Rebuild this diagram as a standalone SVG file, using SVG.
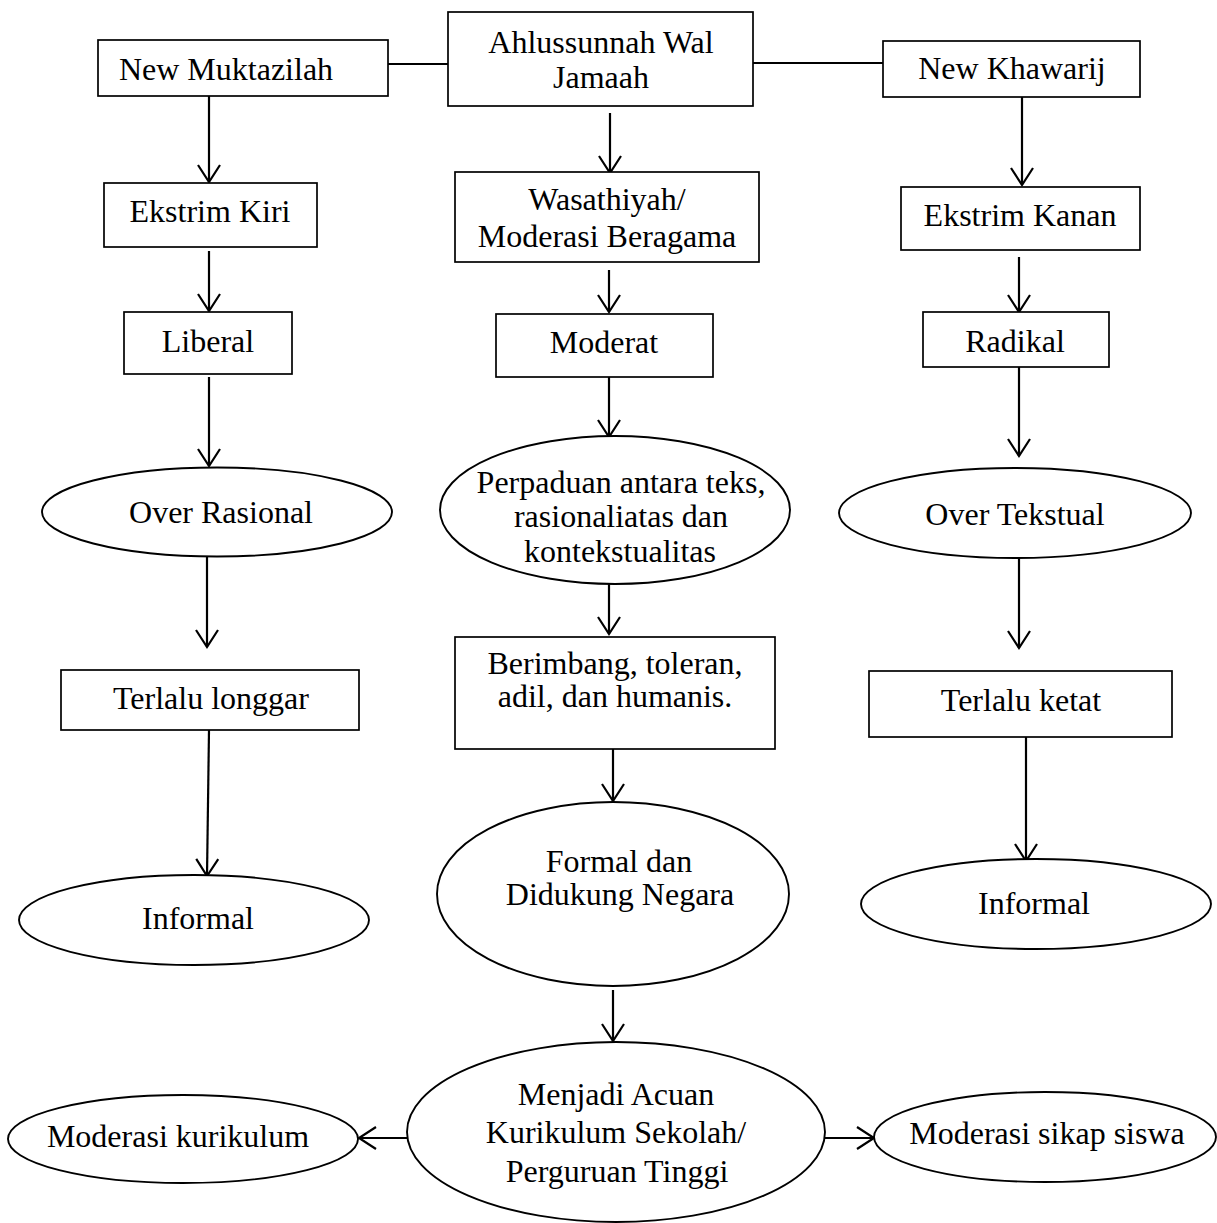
<svg xmlns="http://www.w3.org/2000/svg" width="1217" height="1223" viewBox="0 0 1217 1223">
<defs>
<style>
.box{fill:#fff;stroke:#000;stroke-width:1.7}
.ell{fill:#fff;stroke:#000;stroke-width:1.9}
.t{font-family:"Liberation Serif","Times New Roman",serif;font-size:32px;fill:#000;text-anchor:middle}
.ln{stroke:#000;stroke-width:2.2;fill:none}
</style>
<marker id="ah" markerUnits="userSpaceOnUse" markerWidth="22" markerHeight="26" viewBox="0 0 22 26" refX="19" refY="13" orient="auto">
<path d="M2,2 L19,13 L2,24" fill="none" stroke="#000" stroke-width="2.2"/>
</marker>
</defs>
<rect width="1217" height="1223" fill="#fff"/>

<g id="connectors">
<line class="ln" x1="388" y1="64" x2="449" y2="64"/>
<line class="ln" x1="753" y1="63" x2="883" y2="63"/>
<line class="ln" x1="209" y1="95" x2="209" y2="182" marker-end="url(#ah)"/>
<line class="ln" x1="209" y1="251" x2="209" y2="311" marker-end="url(#ah)"/>
<line class="ln" x1="209" y1="377" x2="209" y2="466" marker-end="url(#ah)"/>
<line class="ln" x1="207" y1="557" x2="207" y2="647" marker-end="url(#ah)"/>
<line class="ln" x1="209" y1="730" x2="207" y2="876" marker-end="url(#ah)"/>
<line class="ln" x1="610" y1="113" x2="610" y2="173" marker-end="url(#ah)"/>
<line class="ln" x1="609" y1="270" x2="609" y2="312" marker-end="url(#ah)"/>
<line class="ln" x1="609" y1="373" x2="609" y2="437" marker-end="url(#ah)"/>
<line class="ln" x1="609" y1="584" x2="609" y2="634" marker-end="url(#ah)"/>
<line class="ln" x1="613" y1="749" x2="613" y2="801" marker-end="url(#ah)"/>
<line class="ln" x1="613" y1="990" x2="613" y2="1041" marker-end="url(#ah)"/>
<line class="ln" x1="1022" y1="97" x2="1022" y2="185" marker-end="url(#ah)"/>
<line class="ln" x1="1019" y1="257" x2="1019" y2="312" marker-end="url(#ah)"/>
<line class="ln" x1="1019" y1="367" x2="1019" y2="456" marker-end="url(#ah)"/>
<line class="ln" x1="1019" y1="558" x2="1019" y2="648" marker-end="url(#ah)"/>
<line class="ln" x1="1026" y1="737" x2="1026" y2="861" marker-end="url(#ah)"/>
<line class="ln" x1="407" y1="1138" x2="359" y2="1138" marker-end="url(#ah)"/>
<line class="ln" x1="825" y1="1138" x2="874" y2="1138" marker-end="url(#ah)"/>
</g>

<g id="new-muktazilah">
<rect class="box" x="98" y="40" width="290" height="56"/>
<text class="t" x="226" y="80">New Muktazilah</text>
</g>
<g id="ahlussunnah">
<rect class="box" x="448" y="12" width="305" height="94"/>
<text class="t" x="601" y="53">Ahlussunnah Wal</text>
<text class="t" x="601" y="88">Jamaah</text>
</g>
<g id="new-khawarij">
<rect class="box" x="883" y="41" width="257" height="56"/>
<text class="t" x="1012" y="79">New Khawarij</text>
</g>

<g id="ekstrim-kiri">
<rect class="box" x="104" y="183" width="213" height="64"/>
<text class="t" x="210" y="222">Ekstrim Kiri</text>
</g>
<g id="liberal">
<rect class="box" x="124" y="312" width="168" height="62"/>
<text class="t" x="208" y="352">Liberal</text>
</g>
<g id="over-rasional">
<ellipse class="ell" cx="217" cy="512" rx="175" ry="44.5"/>
<text class="t" x="221" y="523">Over Rasional</text>
</g>
<g id="terlalu-longgar">
<rect class="box" x="61" y="670" width="298" height="60"/>
<text class="t" x="211" y="709">Terlalu longgar</text>
</g>
<g id="informal-left">
<ellipse class="ell" cx="194" cy="920" rx="175" ry="45"/>
<text class="t" x="198" y="929">Informal</text>
</g>

<g id="wasathiyah">
<rect class="box" x="455" y="172" width="304" height="90"/>
<text class="t" x="607" y="210">Wasathiyah/</text>
<text class="t" x="607" y="247">Moderasi Beragama</text>
</g>
<g id="moderat">
<rect class="box" x="496" y="314" width="217" height="63"/>
<text class="t" x="604" y="353">Moderat</text>
</g>
<g id="perpaduan">
<ellipse class="ell" cx="615" cy="510" rx="175" ry="74"/>
<text class="t" x="621" y="493">Perpaduan antara teks,</text>
<text class="t" x="621" y="527">rasionaliatas dan</text>
<text class="t" x="620" y="562">kontekstualitas</text>
</g>
<g id="berimbang">
<rect class="box" x="455" y="637" width="320" height="112"/>
<text class="t" x="615" y="674">Berimbang, toleran,</text>
<text class="t" x="615" y="707">adil, dan humanis.</text>
</g>
<g id="formal">
<ellipse class="ell" cx="613" cy="894" rx="176" ry="92"/>
<text class="t" x="619" y="872">Formal dan</text>
<text class="t" x="620" y="905">Didukung Negara</text>
</g>

<g id="ekstrim-kanan">
<rect class="box" x="901" y="187" width="239" height="63"/>
<text class="t" x="1020" y="226">Ekstrim Kanan</text>
</g>
<g id="radikal">
<rect class="box" x="923" y="312" width="186" height="55"/>
<text class="t" x="1015" y="352">Radikal</text>
</g>
<g id="over-tekstual">
<ellipse class="ell" cx="1015" cy="513" rx="176" ry="45"/>
<text class="t" x="1015" y="525">Over Tekstual</text>
</g>
<g id="terlalu-ketat">
<rect class="box" x="869" y="671" width="303" height="66"/>
<text class="t" x="1021" y="711">Terlalu ketat</text>
</g>
<g id="informal-right">
<ellipse class="ell" cx="1036" cy="904" rx="175" ry="45"/>
<text class="t" x="1034" y="914">Informal</text>
</g>

<g id="menjadi-acuan">
<ellipse class="ell" cx="616" cy="1132" rx="209" ry="90"/>
<text class="t" x="616" y="1105">Menjadi Acuan</text>
<text class="t" x="616" y="1143">Kurikulum Sekolah/</text>
<text class="t" x="617" y="1182">Perguruan Tinggi</text>
</g>
<g id="moderasi-kurikulum">
<ellipse class="ell" cx="183" cy="1139" rx="175" ry="44"/>
<text class="t" x="178" y="1147">Moderasi kurikulum</text>
</g>
<g id="moderasi-sikap">
<ellipse class="ell" cx="1045" cy="1137" rx="171" ry="45"/>
<text class="t" x="1047" y="1144">Moderasi sikap siswa</text>
</g>
</svg>
